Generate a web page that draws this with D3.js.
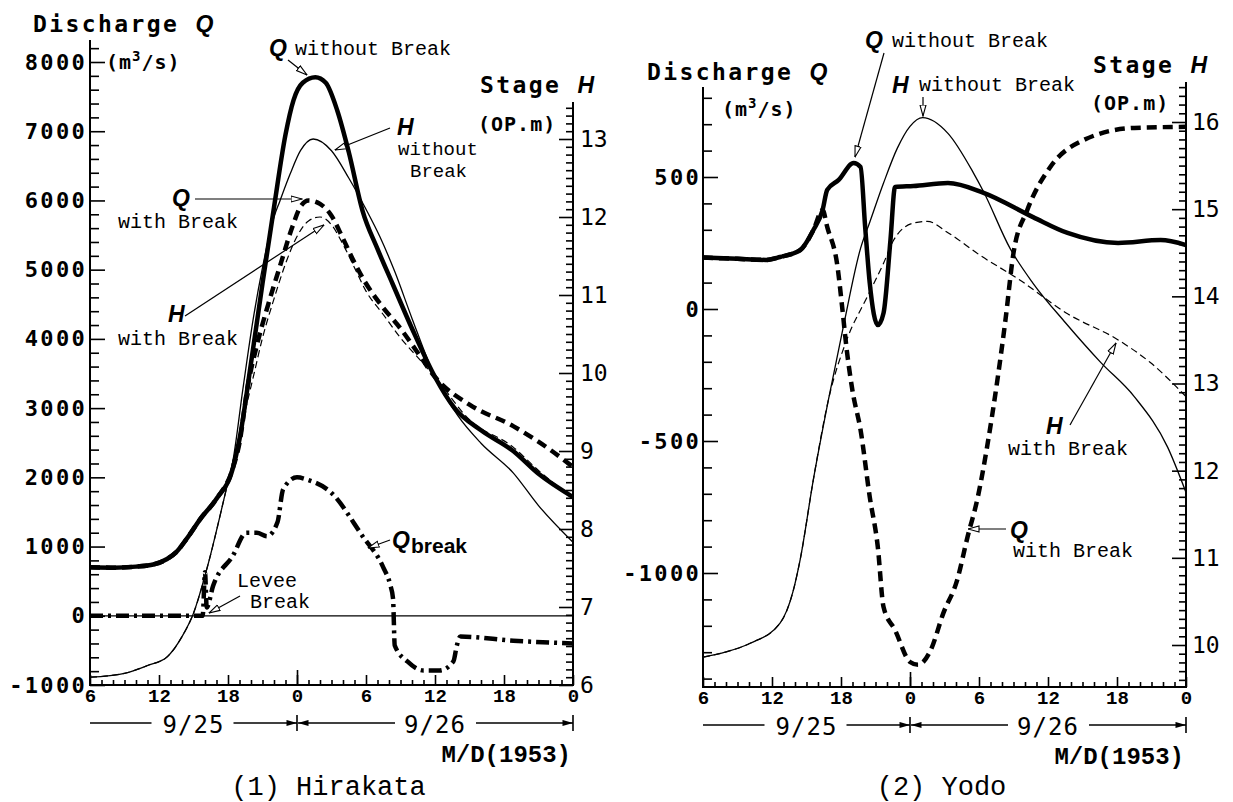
<!DOCTYPE html>
<html>
<head>
<meta charset="utf-8">
<script src="https://cdnjs.cloudflare.com/ajax/libs/d3/7.8.5/d3.min.js"></script>
<style>
  body { margin: 0; background: #fff; }
</style>
</head>
<body>
<svg id="chart" width="1233" height="802"></svg>
<script>
// time axis: hours counted from 9/25 06:00 (0) to 9/27 00:00 (42)
const hourLabels = ["6", "12", "18", "0", "6", "12", "18", "0"];
const dayLabels = ["9/25", "9/26"];

// (1) Hirakata  [hour, discharge m3/s] / [hour, stage m]
const hiraQNoBreak = [[0,700],[2,695],[4,710],[5.5,740],[6.7,820],[7.5,920],[8.4,1110],[9.6,1400],[11,1690],[12.4,2120],[13,2550],[14,3650],[15,4800],[16,5900],[17,6950],[17.7,7450],[18.5,7700],[19.6,7780],[20.5,7700],[21.5,7300],[22.5,6700],[23.7,5850],[25,5300],[26.3,4800],[28,4150],[30,3450],[31.7,3000],[34,2680],[36.8,2380],[39,2050],[42,1715]];
const hiraQBreak = [[0,700],[2,695],[4,710],[5.5,740],[6.7,820],[7.5,920],[8.4,1110],[9.6,1400],[11,1690],[12.4,2120],[13,2500],[13.7,3300],[14.5,3900],[15.5,4500],[16.5,5040],[17.6,5620],[18.3,5910],[19,6000],[20,5950],[21,5780],[22,5450],[23,5100],[24,4800],[25.5,4450],[27,4150],[28.5,3800],[30,3450],[33,3050],[36.8,2740],[40,2400],[42,2150]];
const hiraHNoBreak = [[0,6.1],[3,6.15],[5,6.25],[6.7,6.36],[8,6.62],[9,6.92],[10.2,7.51],[11.9,8.54],[12.4,8.85],[13.3,9.8],[14.2,10.7],[15,11.35],[16,12.0],[16.5,12.2],[17.4,12.55],[18.3,12.85],[19.4,13.0],[21,12.85],[22.5,12.5],[24,12.1],[25.2,11.75],[26.5,11.3],[28,10.7],[30,9.95],[32,9.45],[34,9.1],[36.8,8.72],[39,8.3],[42,7.83]];
const hiraHBreak = [[0,6.1],[3,6.15],[5,6.25],[6.7,6.36],[8,6.62],[9,6.92],[10.2,7.51],[11.9,8.54],[12.4,8.85],[13.3,9.4],[14.2,9.95],[15,10.45],[16,10.95],[17,11.4],[18,11.75],[19,11.95],[20,12.0],[21,11.9],[22,11.65],[23,11.35],[24,11.05],[25.5,10.75],[27,10.45],[28.5,10.2],[30,9.95],[33,9.4],[36.8,9.05],[39,8.75],[42,8.4]];
const hiraQLevee = [[0,0],[9.8,0],[10.0,630],[10.15,120],[10.7,430],[12.4,860],[13.6,1200],[14.5,1200],[15.4,1150],[16.3,1350],[16.8,1830],[18,2000],[19,1960],[20.9,1790],[23.7,1150],[25.5,700],[26.1,450],[26.35,250],[26.5,-430],[27.6,-660],[29,-790],[30.4,-790],[31.6,-660],[31.9,-430],[32.2,-300],[36.8,-360],[42,-400]];

// (2) Yodo
const yodoQNoBreak = [[0,195],[3,190],[5.5,186],[6.7,197],[8.45,223],[9.6,299],[10.4,375],[10.8,451],[11.8,489],[13.1,553],[13.7,538],[14.1,311],[14.5,98],[15.2,-61],[15.7,-15],[16.3,261],[16.7,462],[18.3,466],[21.3,477],[24.4,440],[28.7,348],[31.7,288],[36.1,250],[39.8,261],[42,242]];
const yodoQBreak = [[0,195],[3,190],[5.5,186],[6.7,197],[8.45,223],[9.6,299],[10.4,375],[10.8,311],[11.7,159],[12.1,8],[12.5,-155],[13,-310],[13.7,-458],[14.5,-712],[15.2,-901],[15.7,-1129],[16.7,-1216],[18,-1337],[18.7,-1348],[19.8,-1292],[20.9,-1152],[22.1,-1027],[23,-864],[23.9,-712],[24.7,-523],[25.6,-269],[26.3,-42],[27,212],[28.2,375],[30.2,538],[33.1,640],[37.5,686],[42,690]];
const yodoHNoBreak = [[0,9.86],[2,9.92],[4.1,10.02],[6.7,10.25],[7.8,10.6],[8.45,10.98],[9.6,11.9],[10.9,12.81],[12.2,13.65],[13.7,14.55],[14.5,14.85],[15.7,15.3],[16.9,15.7],[18,15.95],[19.1,16.05],[21.3,15.87],[23.5,15.42],[24.4,15.2],[26.7,14.55],[28.7,14.15],[31.5,13.7],[34.6,13.24],[37.5,12.85],[40.4,12.27],[42,11.75]];
const yodoHBreak = [[0,9.86],[2,9.92],[4.1,10.02],[6.7,10.25],[7.8,10.6],[8.45,10.98],[9.6,11.9],[10.9,12.81],[12.5,13.5],[14.3,14.0],[15.7,14.38],[16.6,14.65],[18.3,14.84],[19.5,14.86],[21.3,14.73],[24.1,14.47],[27.4,14.2],[31.7,13.8],[36.1,13.5],[38.9,13.24],[42,12.85]];

const svg = d3.select("#chart");
const monoBold = "'DejaVu Sans Mono', monospace";
const courier = "'Liberation Mono', 'Courier New', monospace";
const varFont = "'Liberation Sans', Arial, sans-serif";

const defs = svg.append("defs");
defs.append("marker").attr("id", "open")
  .attr("viewBox", "0 0 12 8").attr("refX", 11.5).attr("refY", 4)
  .attr("markerWidth", 12).attr("markerHeight", 8)
  .attr("markerUnits", "userSpaceOnUse").attr("orient", "auto")
  .append("path").attr("d", "M0.5,1 L11.5,4 L0.5,7 Z")
  .attr("fill", "#fff").attr("stroke", "#000").attr("stroke-width", 1.1);
defs.append("marker").attr("id", "solid")
  .attr("viewBox", "0 0 12 8").attr("refX", 12).attr("refY", 4)
  .attr("markerWidth", 12).attr("markerHeight", 7)
  .attr("markerUnits", "userSpaceOnUse").attr("orient", "auto")
  .append("path").attr("d", "M0,0.5 L12,4 L0,7.5 Z").attr("fill", "#000");

const styles = {
  thick: { w: 4.5, dash: null },
  thickDash: { w: 4.5, dash: "10,6" },
  thin: { w: 1.3, dash: null },
  thinDash: { w: 1.2, dash: "7,4" },
  dashDot: { w: 4.5, dash: "13,5,3,5" }
};

const panels = [
  {
    x: [90, 573], bottom: 685,
    q: { domain: [-1000, 8000], range: [685, 62], top: 40, pad: 3,
         minor: d3.range(-800, 8201, 200).filter(v => v % 1000),
         major: d3.range(-1000, 8001, 1000) },
    h: { domain: [6, 13], range: [685, 139], top: 102, pad: 7,
         minor: d3.range(61, 135).filter(v => v % 10).map(v => v / 10),
         major: d3.range(6, 14) },
    series: [
      { data: hiraHNoBreak, axis: "h", style: "thin" },
      { data: hiraHBreak, axis: "h", style: "thinDash" },
      { data: hiraQNoBreak, axis: "q", style: "thick" },
      { data: hiraQBreak, axis: "q", style: "thickDash" },
      { data: hiraQLevee, axis: "q", style: "dashDot" }
    ],
    zeroLine: true,
    titles: { q: [33, 32], qUnit: [106, 69], h: [480, 93], hUnit: [478, 131] },
    dateY: 723, caption: "(1) Hirakata", captionY: 795,
    notes: [
      { parts: [{ t: "Q", x: 269, y: 56, v: 1 }, { t: "without Break", x: 295, y: 55 }], from: [288, 60], to: [307, 75] },
      { parts: [{ t: "H", x: 397, y: 135, v: 1 }, { t: "without", x: 398, y: 155, s: 19 }, { t: "Break", x: 410, y: 177, s: 19 }], from: [390, 128], to: [335, 150] },
      { parts: [{ t: "Q", x: 172, y: 206, v: 1 }, { t: "with Break", x: 118, y: 228 }], from: [195, 199], to: [302, 199] },
      { parts: [{ t: "H", x: 168, y: 322, v: 1 }, { t: "with Break", x: 118, y: 345 }], from: [185, 316], to: [324, 225] },
      { parts: [{ t: "Q", x: 392, y: 548, v: 1 }, { t: "break", x: 411, y: 553, b: 1 }], from: [390, 540], to: [368, 548] },
      { parts: [{ t: "Levee", x: 237, y: 587 }, { t: "Break", x: 250, y: 608 }], from: [240, 596], to: [209, 613] }
    ]
  },
  {
    x: [703, 1186], bottom: 687,
    q: { domain: [-1000, 500], range: [573, 177], top: 87, pad: 2,
         minor: d3.range(-1400, 801, 100).filter(v => v % 500),
         major: d3.range(-1000, 501, 500) },
    h: { domain: [10, 16], range: [645, 122], top: 82, pad: 6,
         minor: d3.range(96, 165).filter(v => v % 10).map(v => v / 10),
         major: d3.range(10, 17) },
    series: [
      { data: yodoHNoBreak, axis: "h", style: "thin" },
      { data: yodoHBreak, axis: "h", style: "thinDash" },
      { data: yodoQNoBreak, axis: "q", style: "thick" },
      { data: yodoQBreak, axis: "q", style: "thickDash" }
    ],
    zeroLine: false,
    titles: { q: [647, 80], qUnit: [722, 116], h: [1093, 73], hUnit: [1091, 110] },
    dateY: 725, caption: "(2) Yodo", captionY: 795,
    notes: [
      { parts: [{ t: "Q", x: 865, y: 48, v: 1 }, { t: "without Break", x: 892, y: 47 }], from: [884, 53], to: [855, 157] },
      { parts: [{ t: "H", x: 892, y: 93, v: 1 }, { t: "without Break", x: 919, y: 91 }], from: [923, 97], to: [923, 116] },
      { parts: [{ t: "H", x: 1046, y: 434, v: 1 }, { t: "with Break", x: 1008, y: 455 }], from: [1070, 425], to: [1116, 343] },
      { parts: [{ t: "Q", x: 1010, y: 538, v: 1 }, { t: "with Break", x: 1013, y: 557 }], from: [1006, 529], to: [968, 529] }
    ]
  }
];

function styleAxis(sel, font, size, weight, spacing) {
  sel.select(".domain").remove();
  sel.selectAll("line").attr("stroke-width", 1.6);
  sel.selectAll("text")
    .attr("font-family", font).attr("font-size", size)
    .attr("font-weight", weight).attr("letter-spacing", spacing || 0);
}

function drawPanel(p) {
  const g = svg.append("g");
  const x = d3.scaleLinear().domain([0, 42]).range(p.x);
  const yQ = d3.scaleLinear().domain(p.q.domain).range(p.q.range);
  const yH = d3.scaleLinear().domain(p.h.domain).range(p.h.range);
  const [x0, x1] = p.x;
  const yb = p.bottom;

  // frame: left axis, bottom axis, right axis
  g.append("path")
    .attr("d", `M${x0},${p.q.top}V${yb}H${x1}V${p.h.top}`)
    .attr("fill", "none").attr("stroke", "#000").attr("stroke-width", 2);

  // discharge axis, ticks point inward
  g.append("g").attr("transform", `translate(${x0},0)`)
    .call(d3.axisLeft(yQ).tickValues(p.q.minor).tickSizeInner(-9).tickSizeOuter(0).tickFormat(""))
    .call(s => styleAxis(s, monoBold, 22, "bold"));
  g.append("g").attr("transform", `translate(${x0},0)`)
    .call(d3.axisLeft(yQ).tickValues(p.q.major).tickSizeInner(-15).tickSizeOuter(0)
      .tickPadding(p.q.pad).tickFormat(d => String(d)))
    .call(s => styleAxis(s, monoBold, 22, "bold", 2.3));

  // stage axis
  g.append("g").attr("transform", `translate(${x1},0)`)
    .call(d3.axisRight(yH).tickValues(p.h.minor).tickSizeInner(-7).tickSizeOuter(0).tickFormat(""))
    .call(s => styleAxis(s, monoBold, 23, "normal"));
  g.append("g").attr("transform", `translate(${x1},0)`)
    .call(d3.axisRight(yH).tickValues(p.h.major).tickSizeInner(-14).tickSizeOuter(0)
      .tickPadding(p.h.pad).tickFormat(d => String(d)))
    .call(s => styleAxis(s, monoBold, 23, "normal"));

  // time axis
  g.append("g").attr("transform", `translate(0,${yb})`)
    .call(d3.axisBottom(x).tickValues(d3.range(0, 43).filter(h => h % 6)).tickSizeInner(-5).tickSizeOuter(0).tickFormat(""))
    .call(s => styleAxis(s, courier, 19, "bold"));
  g.append("g").attr("transform", `translate(0,${yb})`)
    .call(d3.axisBottom(x).tickValues(d3.range(0, 43, 6)).tickSizeInner(-10).tickSizeOuter(0)
      .tickPadding(4).tickFormat(h => hourLabels[h / 6]))
    .call(s => styleAxis(s, courier, 19, "bold"));
  g.append("g").attr("transform", `translate(0,${yb})`)
    .call(d3.axisBottom(x).tickValues([18]).tickSizeInner(-15).tickSizeOuter(0).tickFormat(""))
    .call(s => styleAxis(s, courier, 19, "bold"));

  if (p.zeroLine) {
    g.append("line").attr("x1", x0).attr("x2", x1)
      .attr("y1", yQ(0)).attr("y2", yQ(0))
      .attr("stroke", "#000").attr("stroke-width", 1.3);
  }

  // curves
  p.series.forEach(s => {
    const ys = s.axis === "q" ? yQ : yH;
    const st = styles[s.style];
    g.append("path").datum(s.data)
      .attr("d", d3.line().x(d => x(d[0])).y(d => ys(d[1])).curve(d3.curveMonotoneX))
      .attr("fill", "none").attr("stroke", "#000")
      .attr("stroke-width", st.w)
      .attr("stroke-dasharray", st.dash)
      .attr("stroke-linejoin", "round");
  });

  // axis titles
  const title = (pos, main, v) => {
    const t = g.append("text").attr("x", pos[0]).attr("y", pos[1])
      .attr("font-family", monoBold).attr("font-weight", "bold")
      .attr("font-size", 23).attr("letter-spacing", 2.4).text(main);
    t.append("tspan").attr("font-family", varFont).attr("font-style", "italic")
      .attr("letter-spacing", 0).text(v);
  };
  title(p.titles.q, "Discharge ", "Q");
  title(p.titles.h, "Stage ", "H");
  const unitQ = g.append("text").attr("x", p.titles.qUnit[0]).attr("y", p.titles.qUnit[1])
    .attr("font-family", monoBold).attr("font-weight", "bold").attr("font-size", 20).attr("letter-spacing", 1);
  unitQ.append("tspan").text("(m");
  unitQ.append("tspan").attr("dy", -8).attr("font-size", 14).text("3");
  unitQ.append("tspan").attr("dy", 8).text("/s)");
  g.append("text").attr("x", p.titles.hUnit[0]).attr("y", p.titles.hUnit[1])
    .attr("font-family", monoBold).attr("font-weight", "bold").attr("font-size", 20)
    .attr("letter-spacing", 1).text("(OP.m)");

  // callouts
  p.notes.forEach(n => {
    n.parts.forEach(pt => {
      const t = g.append("text").attr("x", pt.x).attr("y", pt.y).text(pt.t);
      if (pt.v) {
        t.attr("font-family", varFont).attr("font-style", "italic").attr("font-weight", "bold").attr("font-size", 23);
      } else if (pt.b) {
        t.attr("font-family", varFont).attr("font-weight", "bold").attr("font-size", 21);
      } else {
        t.attr("font-family", courier).attr("font-size", pt.s || 20);
      }
    });
    g.append("line").attr("x1", n.from[0]).attr("y1", n.from[1])
      .attr("x2", n.to[0]).attr("y2", n.to[1])
      .attr("stroke", "#000").attr("stroke-width", 1.2).attr("marker-end", "url(#open)");
  });

  // day span arrows
  const yd = p.dateY;
  const c1 = x(9), c2 = x(30), d1 = x(18), d2 = x(42);
  const seg = (a, b, arrow) => g.append("line").attr("x1", a).attr("x2", b)
    .attr("y1", yd).attr("y2", yd).attr("stroke", "#000").attr("stroke-width", 1.4)
    .attr("marker-end", arrow ? "url(#solid)" : null);
  seg(x0, c1 - 42, false);
  seg(c1 + 40, d1, true);
  seg(c2 - 40, d1 + 1, true);
  seg(c2 + 41, d2, true);
  [d1, d2].forEach(v => g.append("line").attr("x1", v).attr("x2", v)
    .attr("y1", yd - 8).attr("y2", yd + 8).attr("stroke", "#000").attr("stroke-width", 1.6));
  [c1, c2].forEach((c, i) => g.append("text").attr("x", c).attr("y", yd + 10)
    .attr("text-anchor", "middle").attr("font-family", monoBold)
    .attr("font-size", 24).attr("letter-spacing", 1).text(dayLabels[i]));
  g.append("text").attr("x", d2 - 2).attr("y", yd + 39).attr("text-anchor", "end")
    .attr("font-family", courier).attr("font-weight", "bold").attr("font-size", 24)
    .text("M/D(1953)");
  g.append("text").attr("x", x(21) - 3).attr("y", p.captionY).attr("text-anchor", "middle")
    .attr("font-family", courier).attr("font-size", 27).attr("xml:space", "preserve")
    .text(p.caption);
}

panels.forEach(drawPanel);
</script>
</body>
</html>
